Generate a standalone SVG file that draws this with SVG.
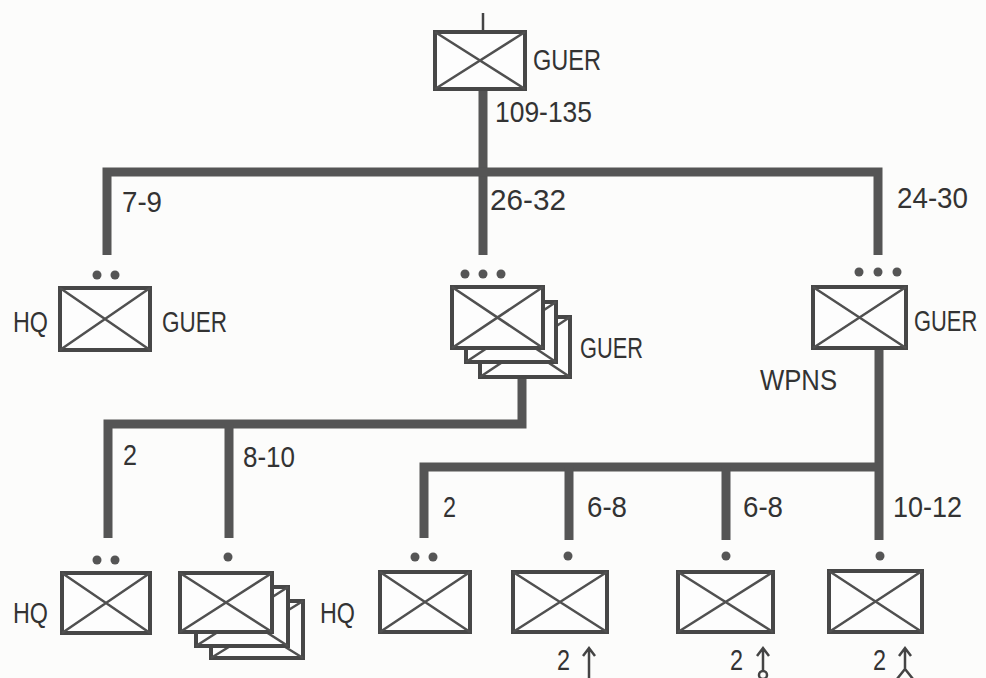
<svg xmlns="http://www.w3.org/2000/svg" width="986" height="678" viewBox="0 0 986 678">
<style>
.bg{fill:#fcfcfb}
.box{fill:#fdfdfd;stroke:#474747;stroke-width:4}
.x{fill:none;stroke:#505050;stroke-width:2.5}
.conn{fill:none;stroke:#555;stroke-width:9;stroke-linejoin:miter;stroke-linecap:butt}
.thin{fill:none;stroke:#444;stroke-width:2.5;stroke-linecap:butt}
.dot{fill:#555}
text{font-family:"Liberation Sans",Arial,sans-serif;font-size:30px;fill:#333}
</style>
<rect class="bg" x="0" y="0" width="986" height="678"/>

<g id="connectors">
  <path class="thin" d="M483 13 V32"/>
  <path class="conn" d="M483 88 V255"/>
  <path class="conn" d="M107 255 V172 H878 V255"/>
  <path class="conn" d="M522 377 V424 H108 V538"/>
  <path class="conn" d="M229 424 V538"/>
  <path class="conn" d="M879 348 V540"/>
  <path class="conn" d="M424 538 V467 H879"/>
  <path class="conn" d="M569 467 V540"/>
  <path class="conn" d="M726 467 V540"/>
</g>

<g id="top-guer">
  <rect class="box" x="435" y="32" width="90" height="57"/>
  <path class="x" d="M435 32 L525 89 M525 32 L435 89"/>
  <text x="533" y="70" textLength="68" lengthAdjust="spacingAndGlyphs">GUER</text>
  <text x="495" y="122" textLength="97" lengthAdjust="spacingAndGlyphs">109-135</text>
</g>

<g id="label-7-9"><text x="122" y="212" textLength="40" lengthAdjust="spacingAndGlyphs">7-9</text></g>
<g id="label-26-32"><text x="490" y="210" textLength="76" lengthAdjust="spacingAndGlyphs">26-32</text></g>
<g id="label-24-30"><text x="897" y="208" textLength="71" lengthAdjust="spacingAndGlyphs">24-30</text></g>

<g id="hq-guer-left">
  <circle class="dot" cx="97" cy="275" r="4.5"/><circle class="dot" cx="115" cy="275" r="4.5"/>
  <rect class="box" x="60" y="288" width="90" height="62"/>
  <path class="x" d="M60 288 L150 350 M150 288 L60 350"/>
  <text x="13" y="332" textLength="35" lengthAdjust="spacingAndGlyphs">HQ</text>
  <text x="162" y="332" textLength="65" lengthAdjust="spacingAndGlyphs">GUER</text>
</g>

<g id="guer-multi">
  <circle class="dot" cx="465" cy="274" r="4.5"/><circle class="dot" cx="483" cy="274" r="4.5"/><circle class="dot" cx="501" cy="274" r="4.5"/>
  <rect class="box" x="480" y="317" width="90" height="60"/>
  <path class="x" d="M480 317 L570 377 M570 317 L480 377"/>
  <rect class="box" x="466" y="302" width="90" height="60"/>
  <path class="x" d="M466 302 L556 362 M556 302 L466 362"/>
  <rect class="box" x="452" y="287" width="91" height="61"/>
  <path class="x" d="M452 287 L543 348 M543 287 L452 348"/>
  <text x="580" y="358" textLength="63" lengthAdjust="spacingAndGlyphs">GUER</text>
</g>

<g id="guer-right">
  <circle class="dot" cx="859" cy="272" r="4.5"/><circle class="dot" cx="878" cy="272" r="4.5"/><circle class="dot" cx="897" cy="272" r="4.5"/>
  <rect class="box" x="813" y="287" width="93" height="61"/>
  <path class="x" d="M813 287 L906 348 M906 287 L813 348"/>
  <text transform="translate(914 331) scale(0.73 1)">GUER</text>
  <text x="760" y="390" textLength="77" lengthAdjust="spacingAndGlyphs">WPNS</text>
</g>

<g id="label-2-a"><text x="123" y="465" textLength="14" lengthAdjust="spacingAndGlyphs">2</text></g>
<g id="label-8-10"><text x="243" y="467" textLength="52" lengthAdjust="spacingAndGlyphs">8-10</text></g>
<g id="label-2-b"><text x="443" y="517" textLength="13" lengthAdjust="spacingAndGlyphs">2</text></g>
<g id="label-6-8-a"><text x="587" y="517" textLength="40" lengthAdjust="spacingAndGlyphs">6-8</text></g>
<g id="label-6-8-b"><text x="743" y="517" textLength="40" lengthAdjust="spacingAndGlyphs">6-8</text></g>
<g id="label-10-12"><text x="893" y="517" textLength="69" lengthAdjust="spacingAndGlyphs">10-12</text></g>

<g id="hq-bottom-left">
  <circle class="dot" cx="97" cy="560" r="4.5"/><circle class="dot" cx="115" cy="560" r="4.5"/>
  <rect class="box" x="62" y="573" width="88" height="60"/>
  <path class="x" d="M62 573 L150 633 M150 573 L62 633"/>
  <text x="13" y="623" textLength="35" lengthAdjust="spacingAndGlyphs">HQ</text>
</g>

<g id="multi-bottom">
  <circle class="dot" cx="228" cy="557" r="4.5"/>
  <rect class="box" x="211" y="601" width="92" height="57"/>
  <path class="x" d="M211 601 L303 658 M303 601 L211 658"/>
  <rect class="box" x="196" y="587" width="92" height="59"/>
  <path class="x" d="M196 587 L288 646 M288 587 L196 646"/>
  <rect class="box" x="180" y="573" width="92" height="59"/>
  <path class="x" d="M180 573 L272 632 M272 573 L180 632"/>
</g>

<g id="hq-bottom-mid">
  <circle class="dot" cx="415" cy="557" r="4.5"/><circle class="dot" cx="433" cy="557" r="4.5"/>
  <rect class="box" x="380" y="572" width="90" height="60"/>
  <path class="x" d="M380 572 L470 632 M470 572 L380 632"/>
  <text x="320" y="623" textLength="35" lengthAdjust="spacingAndGlyphs">HQ</text>
</g>

<g id="unit-b1">
  <circle class="dot" cx="568" cy="556" r="4.5"/>
  <rect class="box" x="513" y="572" width="94" height="60"/>
  <path class="x" d="M513 572 L607 632 M607 572 L513 632"/>
  <text x="557" y="670" textLength="13" lengthAdjust="spacingAndGlyphs">2</text>
  <path class="thin" d="M589 648 V678 M583 656 L589 648 L595 656"/>
</g>

<g id="unit-b2">
  <circle class="dot" cx="726" cy="556" r="4.5"/>
  <rect class="box" x="678" y="572" width="95" height="60"/>
  <path class="x" d="M678 572 L773 632 M773 572 L678 632"/>
  <text x="730" y="670" textLength="13" lengthAdjust="spacingAndGlyphs">2</text>
  <path class="thin" d="M763 648 V671 M757 656 L763 648 L769 656"/>
  <circle class="thin" cx="763" cy="675" r="4"/>
</g>

<g id="unit-b3">
  <circle class="dot" cx="880" cy="556" r="4.5"/>
  <rect class="box" x="829" y="571" width="93" height="61"/>
  <path class="x" d="M829 571 L922 632 M922 571 L829 632"/>
  <text x="873" y="670" textLength="13" lengthAdjust="spacingAndGlyphs">2</text>
  <path class="thin" d="M905 648 V670 M899 656 L905 648 L911 656 M897 679 L905 669 L913 679"/>
</g>
</svg>
